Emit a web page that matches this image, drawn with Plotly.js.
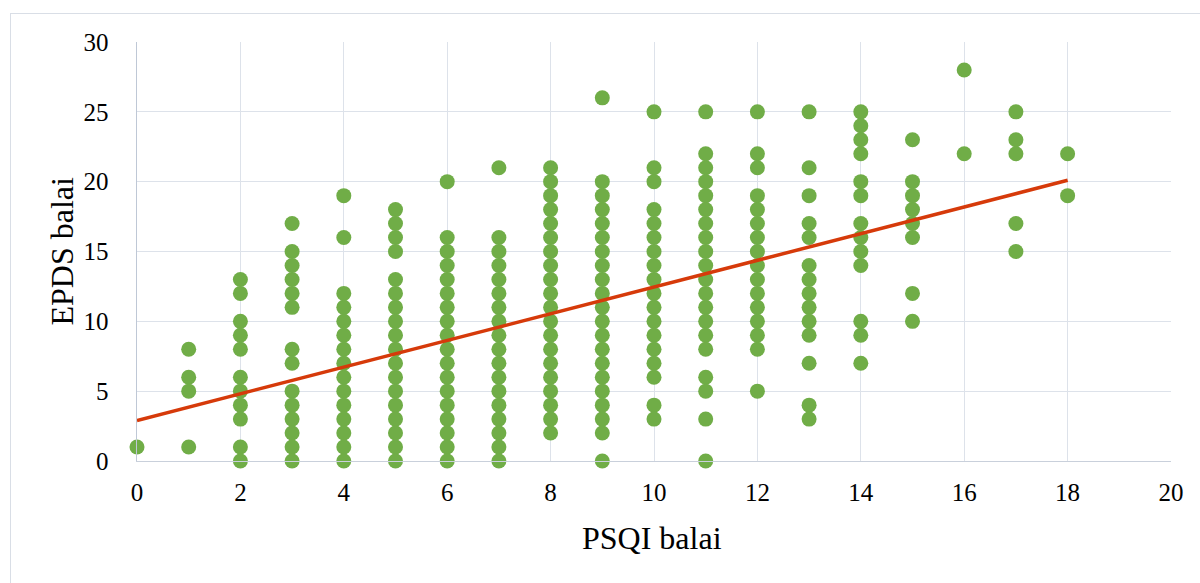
<!DOCTYPE html>
<html>
<head>
<meta charset="utf-8">
<script src="https://cdn.plot.ly/plotly-3.0.1.min.js"></script>
<style>
  html, body { margin: 0; padding: 0; background: #fff; }
  #wrap { position: relative; width: 1200px; height: 583px; overflow: hidden; }
  #chart { position: absolute; left: 0; top: 0; width: 1200px; height: 583px; }
  #frame { position: absolute; left: 10px; top: 13px; width: 1300px; height: 700px;
           border: 1px solid #D9DEE6; pointer-events: none; }
</style>
</head>
<body>
<div id="wrap">
  <div id="frame"></div>
  <div id="chart"></div>
</div>
<script>
// PSQI score (x) and the EPDS scores (y) seen at each PSQI value
const psqiValues = [0,1,2,3,4,5,6,7,8,9,10,11,12,13,14,15,16,17,18];
const epds0  = [1];
const epds1  = [8,6,5,1];
const epds2  = [13,12,10,9,8,6,5,4,3,1,0];
const epds3  = [17,15,14,13,12,11,8,7,5,4,3,2,1,0];
const epds4  = [19,16,12,11,10,9,8,7,6,5,4,3,2,1,0];
const epds5  = [18,17,16,15,13,12,11,10,9,8,7,6,5,4,3,2,1,0];
const epds6  = [20,16,15,14,13,12,11,10,9,8,7,6,5,4,3,2,1,0];
const epds7  = [21,16,15,14,13,12,11,10,9,8,7,6,5,4,3,2,1,0];
const epds8  = [21,20,19,18,17,16,15,14,13,12,11,10,9,8,7,6,5,4,3,2];
const epds9  = [26,20,19,18,17,16,15,14,13,12,11,10,9,8,7,6,5,4,3,2,0];
const epds10 = [25,21,20,18,17,16,15,14,13,12,11,10,9,8,7,6,4,3];
const epds11 = [25,22,21,20,19,18,17,16,15,14,13,12,11,10,9,8,6,5,3,0];
const epds12 = [25,22,21,19,18,17,16,15,14,13,12,11,10,9,8,5];
const epds13 = [25,21,19,17,16,14,13,12,11,10,9,7,4,3];
const epds14 = [25,24,23,22,20,19,17,16,15,14,10,9,7];
const epds15 = [23,20,19,18,17,16,12,10];
const epds16 = [28,22];
const epds17 = [25,23,22,17,15];
const epds18 = [22,19];

// Linear trend line end points
const trendX = [0, 18];
const trendY = [2.9, 20.1];

const xTickVals = [0,2,4,6,8,10,12,14,16,18,20];
const yTickVals = [0,5,10,15,20,25,30];

const columns = [epds0,epds1,epds2,epds3,epds4,epds5,epds6,epds7,epds8,epds9,
                 epds10,epds11,epds12,epds13,epds14,epds15,epds16,epds17,epds18];
const xs = [], ys = [];
columns.forEach((col, i) => col.forEach(v => { xs.push(psqiValues[i]); ys.push(v); }));

const serif = "'Liberation Serif', 'Times New Roman', serif";

const data = [
  {
    type: 'scatter', mode: 'markers', x: xs, y: ys,
    marker: { color: '#70AD47', size: 15 },
    cliponaxis: false, hoverinfo: 'x+y', showlegend: false
  },
  {
    type: 'scatter', mode: 'lines', x: trendX, y: trendY,
    line: { color: '#D63A0A', width: 3.5 },
    cliponaxis: false, showlegend: false
  }
];

const layout = {
  width: 1200, height: 583,
  margin: { l: 137, r: 29, t: 42, b: 122 },
  paper_bgcolor: 'rgba(0,0,0,0)', plot_bgcolor: 'rgba(0,0,0,0)',
  font: { family: serif, color: '#000', size: 25 },
  showlegend: false,
  xaxis: {
    range: [0, 20], tickvals: xTickVals, ticktext: xTickVals.map(String),
    showgrid: true, gridcolor: '#DDE2EA', gridwidth: 1,
    zeroline: false, showline: true, linecolor: '#C9D0DB', linewidth: 1,
    ticks: '', ticklabelstandoff: 9,
    tickfont: { family: serif, size: 25, color: '#000' },
    fixedrange: true
  },
  yaxis: {
    range: [0, 30], tickvals: yTickVals, ticktext: yTickVals.map(String),
    showgrid: true, gridcolor: '#DDE2EA', gridwidth: 1,
    zeroline: false, showline: true, linecolor: '#BFC8D6', linewidth: 1.5,
    ticks: '', ticklabelstandoff: 22,
    tickfont: { family: serif, size: 25, color: '#000' },
    fixedrange: true
  },
  annotations: [
    {
      text: 'PSQI balai', xref: 'paper', yref: 'paper',
      x: 0.4985, y: -0.183, xanchor: 'center', yanchor: 'middle',
      showarrow: false, font: { family: serif, size: 32, color: '#000' }
    },
    {
      text: 'EPDS balai', xref: 'paper', yref: 'paper',
      x: -0.0735, y: 0.5, xanchor: 'center', yanchor: 'middle', textangle: -90,
      showarrow: false, font: { family: serif, size: 32, color: '#000' }
    }
  ]
};

Plotly.newPlot('chart', data, layout, { displayModeBar: false, staticPlot: true });
</script>
</body>
</html>
